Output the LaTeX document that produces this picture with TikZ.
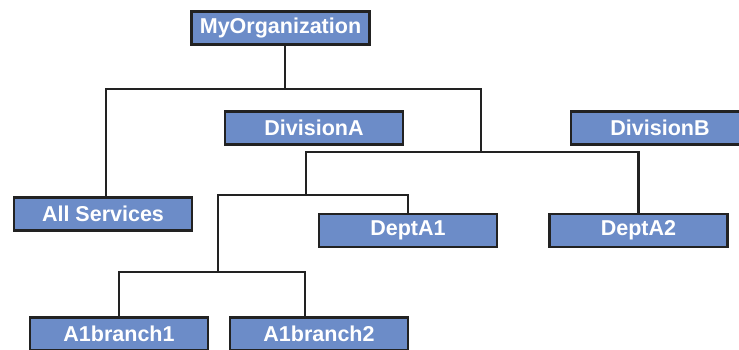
\documentclass[tikz,border=0pt]{standalone}
\usepackage{fontspec}
\setmainfont{Liberation Sans}
\definecolor{boxfill}{RGB}{108,140,200}
\definecolor{edgecol}{RGB}{34,34,34}
\begin{document}
\begin{tikzpicture}[x=1pt,y=-1pt,
  orgbox/.style={draw=edgecol, line width=2.8pt, fill=boxfill, text=white,
    font=\bfseries\fontsize{21.5}{24}\selectfont, minimum width=178pt,
    minimum height=33pt, inner sep=0pt, anchor=center},
  conn/.style={draw=edgecol, line width=2.8pt}]
\useasboundingbox (0,0) rectangle (739,350);
\clip (0,0) rectangle (739,350);
\node[orgbox] (MyOrg) at (280.5,28) {MyOrganization};
\node[orgbox] (DivA) at (314,128) {DivisionA};
\node[orgbox] (DivB) at (660,128) {DivisionB};
\node[orgbox] (AllSvc) at (103,214) {All Services};
\node[orgbox] (DeptA1) at (408,230.5) {DeptA1};
\node[orgbox] (DeptA2) at (638.5,230.5) {DeptA2};
\node[orgbox] (A1b1) at (119,334) {A1branch1};
\node[orgbox] (A1b2) at (319,334) {A1branch2};
\coordinate (j1) at (285,89);
\coordinate (j2) at (481,152);
\coordinate (j3) at (306,195);
\coordinate (j4) at (218,272);
\draw[conn] (MyOrg.south -| j1) -- (j1);
\draw[conn] ([xshift=3pt]AllSvc.north) |- (j1) -| (j2);
\draw[conn] (j3) |- (j2) -| (DeptA2.north);
\draw[conn] (j4) |- (j3) -| (DeptA1.north);
\draw[conn] (A1b1.north) |- (j4) -| ([xshift=-14pt]A1b2.north);
\end{tikzpicture}
\end{document}
